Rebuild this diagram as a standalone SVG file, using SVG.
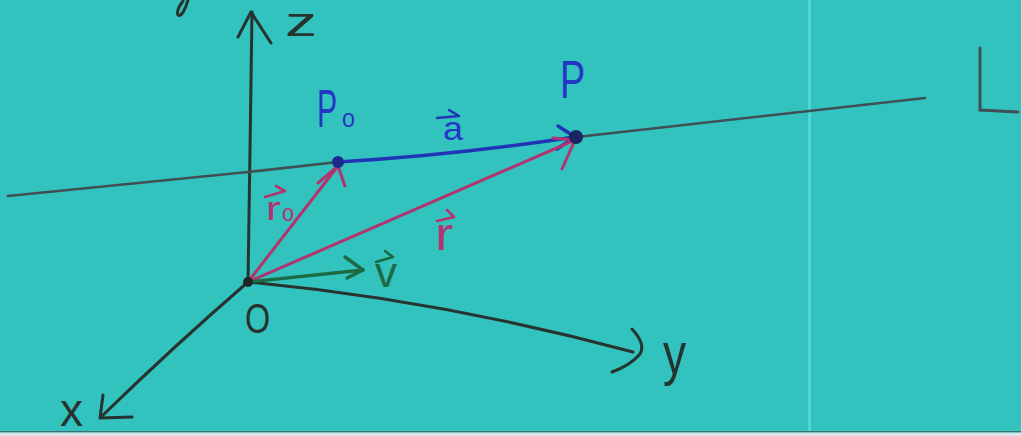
<svg xmlns="http://www.w3.org/2000/svg" width="1021" height="436" viewBox="0 0 1021 436">
<style>
.ax{fill:none;stroke:#26332f;stroke-width:3;stroke-linecap:round;stroke-linejoin:round}
.ln{fill:none;stroke:#3f4f52;stroke-width:2.6;stroke-linecap:round}
.bl{fill:none;stroke:#2233b8;stroke-width:3.4;stroke-linecap:round;stroke-linejoin:round}
.mg{fill:none;stroke:#b2336e;stroke-width:3;stroke-linecap:round;stroke-linejoin:round}
.gr{fill:none;stroke:#1b6b43;stroke-width:3.4;stroke-linecap:round;stroke-linejoin:round}
.t{font-family:"Liberation Sans",Arial,sans-serif}
.tk{fill:#26332f}
.tb{fill:#2436c4}
.tm{fill:#b2336e}
.tg{fill:#1b6b43}
</style>
<rect x="0" y="0" width="1021" height="436" fill="#33c3bf"/>
<rect x="808" y="0" width="3" height="432" fill="#5ad8e0" opacity="0.8"/>
<rect x="0" y="431" width="1021" height="1.5" fill="#3b6f70"/>
<rect x="0" y="432.5" width="1021" height="3.5" fill="#d6e6ea"/>
<path class="ax" d="M188,0 C186,8 181,18 178,15 C176,11 180,5 183,1"/>

<g id="connectors">
  <g id="z-axis"><path class="ax" d="M248,282 L250,150 L252,12"/><polyline class="ax" points="238,37 251,12 271,43"/></g>
  <g id="x-axis"><path class="ax" d="M248,282 Q175,345 101,417"/><polyline class="ax" points="103,395 100,418 132,417"/></g>
  <g id="y-axis"><path class="ax" d="M248,282 Q440,300 633,352"/><path class="ax" d="M632,329 Q646,344 640,354 Q631,365 612,372"/></g>
  <g id="line-L"><polyline class="ln" points="8,196 248,172 338,162"/><polyline class="ln" points="577,137 925,98"/></g>
  <g id="vec-a"><path class="bl" d="M338,162 Q455,155 575,137"/><polyline class="bl" points="558,126 575,137 557,149"/></g>
  <g id="vec-r0"><path class="mg" d="M248,282 L338,166"/><polyline class="mg" points="318,183 338,166 345,186"/></g>
  <g id="vec-r"><path class="mg" d="M248,282 L575,140"/><polyline class="mg" points="553,138 575,140 562,169"/></g>
  <g id="vec-v"><path class="gr" d="M248,282 L363,270"/><polyline class="gr" points="345,257 363,270 347,278"/></g>
</g>

<g id="origin">
  <circle cx="248" cy="282" r="5" fill="#1e2624"/>
  <text class="t tk" font-size="42" transform="translate(245,333) scale(0.77,1)">O</text>
</g>
<g id="axis-labels">
  <text class="t tk" font-size="40" transform="translate(285,36) scale(1.6,1)">z</text>
  <text class="t tk" font-size="60" transform="translate(663,374) scale(0.77,1)">y</text>
  <text class="t tk" font-size="46" transform="translate(60,426) scale(1,1)">x</text>
</g>
<g id="label-L">
  <polyline class="ln" points="980,48 980,110 1018,112" style="stroke-width:3"/>
</g>
<g id="P0">
  <circle cx="338" cy="162" r="6" fill="#1c2a8c"/>
  <text class="t tb" font-size="54" transform="translate(317,127) scale(0.56,1)">P</text>
  <text class="t tb" font-size="26" transform="translate(342,127) scale(0.9,1)">o</text>
</g>
<g id="P">
  <circle cx="576" cy="137" r="7" fill="#1a2660"/>
  <text class="t tb" font-size="54" transform="translate(560,98) scale(0.7,1)">P</text>
</g>
<g id="label-a">
  <path class="bl" style="stroke-width:2.6" d="M437,118 L459,116 M449,110 L459,116"/>
  <text class="t tb" font-size="33" transform="translate(443,140) scale(1.09,1)">a</text>
</g>
<g id="label-r0">
  <path class="mg" style="stroke-width:2.6" d="M265,197 L285,191 M276,186 L285,191"/>
  <text class="t tm" font-size="34" transform="translate(266,220) scale(1.3,1)">r</text>
  <text class="t tm" font-size="24" transform="translate(282,221) scale(0.9,1)">o</text>
</g>
<g id="label-r">
  <path class="mg" style="stroke-width:2.6" d="M437,221 L454,217 M447,210 L454,217"/>
  <text class="t tm" font-size="46" transform="translate(435,250) scale(1.18,1)">r</text>
</g>
<g id="label-v">
  <path class="gr" style="stroke-width:2.6" d="M376,262 L393,257 M385,251 L393,257"/>
  <text class="t tg" font-size="42" transform="translate(375,287) scale(1.05,1)">v</text>
</g>
</svg>
